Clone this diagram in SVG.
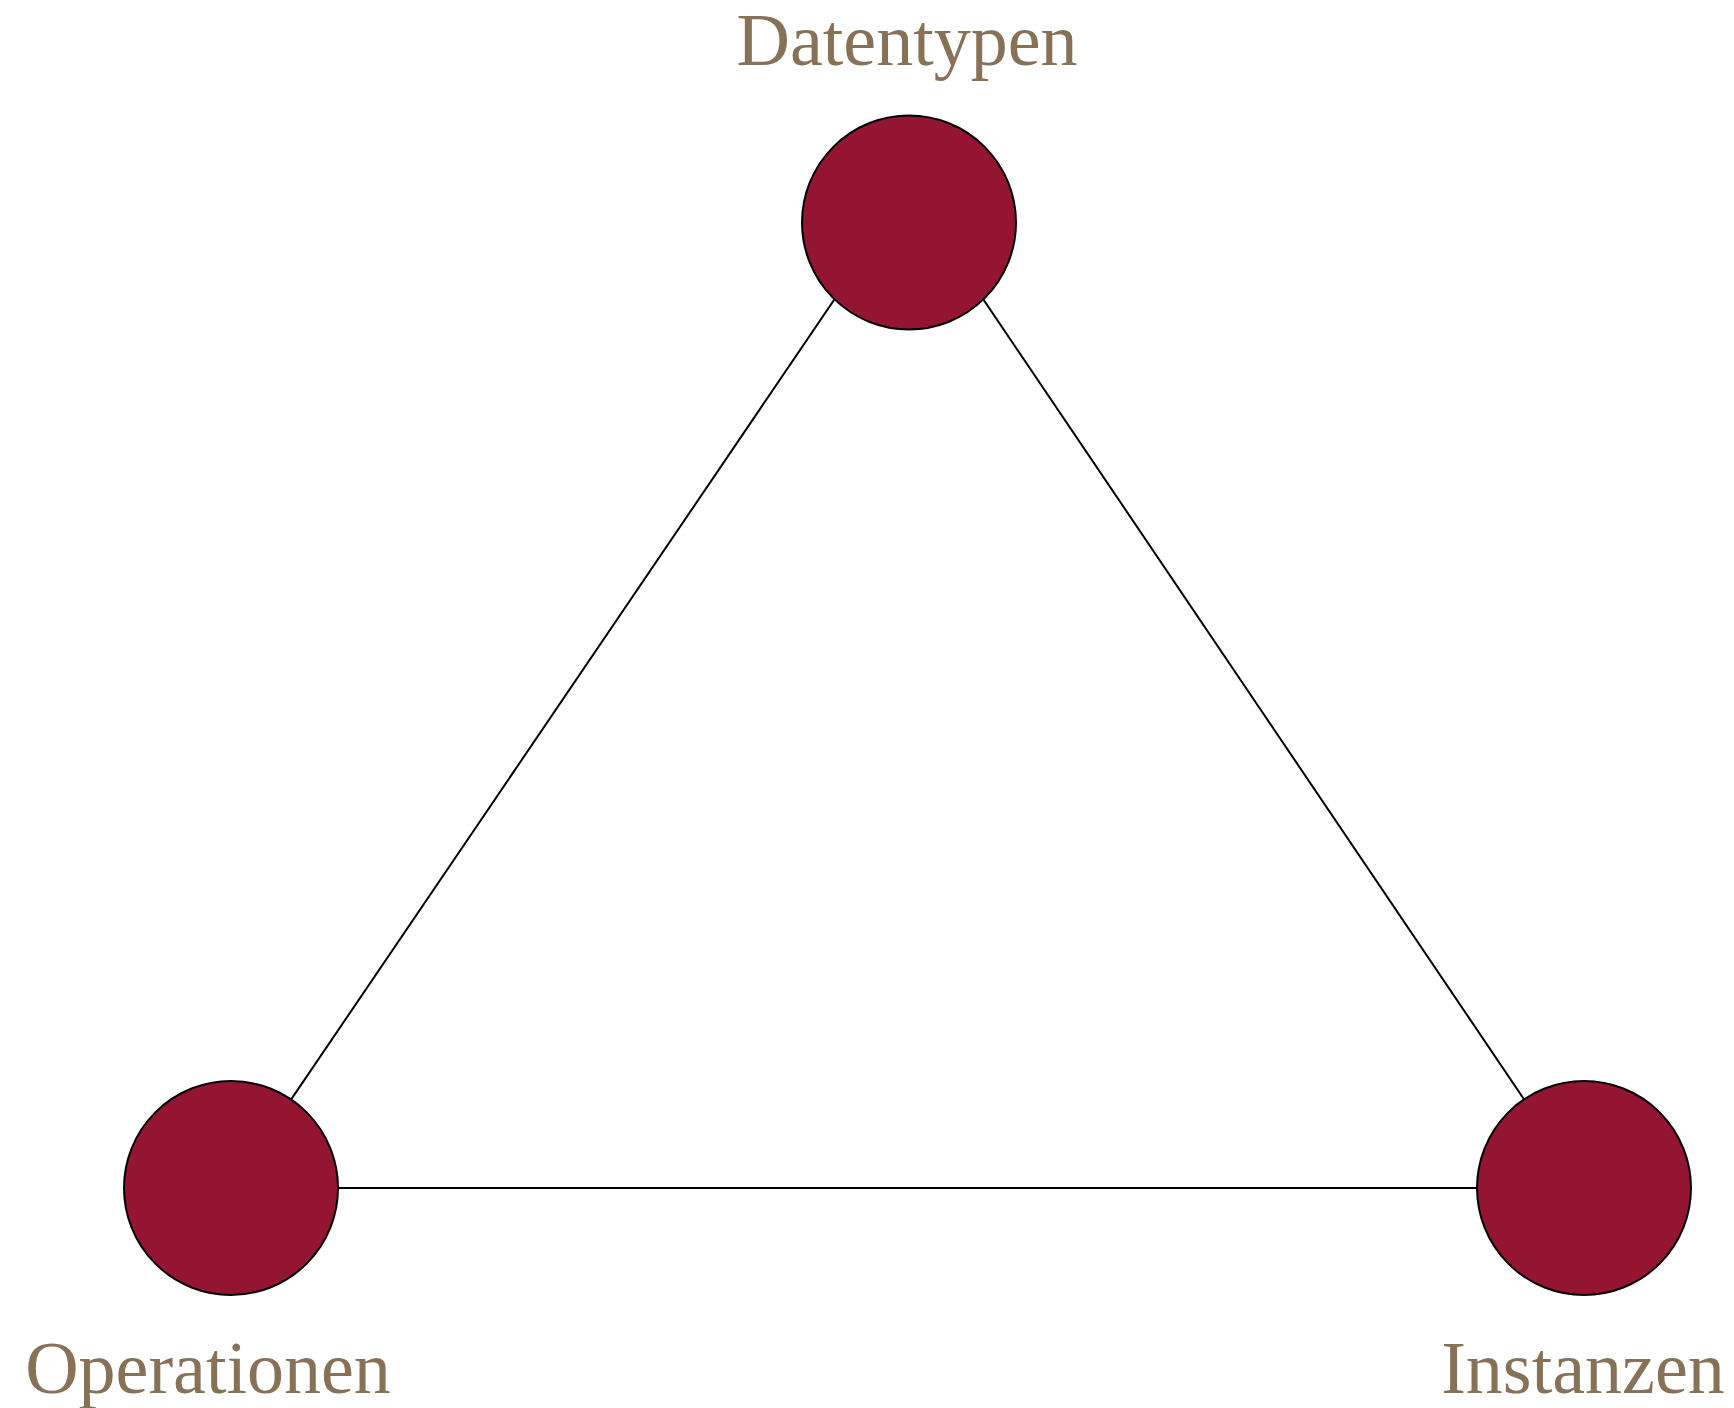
<svg xmlns="http://www.w3.org/2000/svg" width="1734" height="1408" viewBox="0 0 1734 1408">
<style>
.node{fill:#931531;stroke:#000;stroke-width:2}
.edge{stroke:#000;stroke-width:2;fill:none}
.label{font-family:"Liberation Serif","Times New Roman",serif;font-size:74px;fill:#877257;text-anchor:middle}
</style>
<rect width="1734" height="1408" fill="#fff"/>
<g id="connectors">
<line class="edge" x1="887" y1="222" x2="231" y2="1188"/>
<line class="edge" x1="931" y1="222" x2="1584" y2="1188"/>
<line class="edge" x1="231" y1="1188" x2="1584" y2="1188"/>
</g>
<g id="datentypen">
<circle class="node" cx="909" cy="222.5" r="107"/>
<text class="label" x="907" y="65">Datentypen</text>
</g>
<g id="operationen">
<circle class="node" cx="231" cy="1188" r="107"/>
<text class="label" x="208" y="1393">Operationen</text>
</g>
<g id="instanzen">
<circle class="node" cx="1584" cy="1188" r="107"/>
<text class="label" x="1583" y="1393">Instanzen</text>
</g>
</svg>
